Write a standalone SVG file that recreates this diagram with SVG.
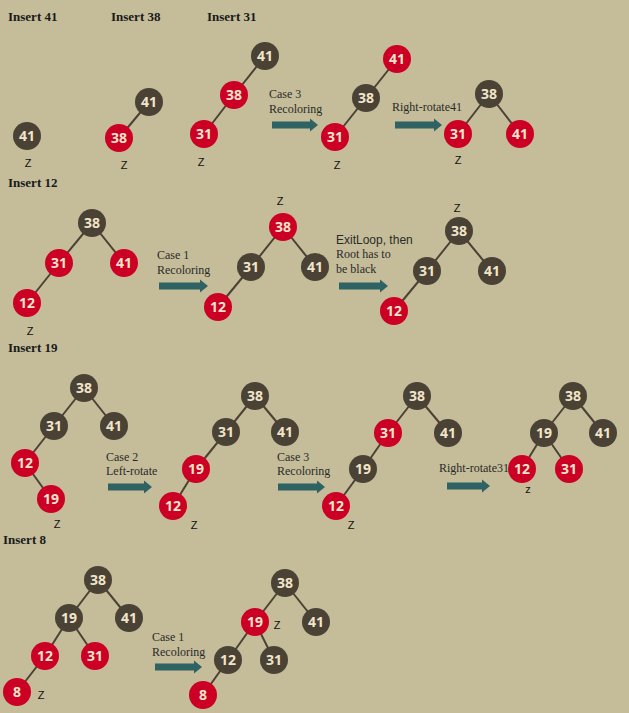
<svg xmlns="http://www.w3.org/2000/svg" width="629" height="713" viewBox="0 0 629 713">
<style>
.bg{fill:#c5bd99}
.b circle{fill:#4b4236}
.r circle{fill:#cc0025}
.n text{font-family:"Open Sans","Liberation Sans",sans-serif;font-weight:700;font-size:14px;fill:#f1e5c9;text-anchor:middle}
.e line{stroke:#4b4236;stroke-width:2}
.hd{font-family:"Liberation Serif",serif;font-weight:700;font-size:13px;fill:#1a1a1a}
.lb{font-family:"Liberation Serif",serif;font-size:12px;fill:#2a2a2a}
.ls{font-family:"Liberation Sans",sans-serif;font-size:12px;fill:#2a2a2a}
.z{font-family:"Liberation Sans",sans-serif;font-size:11px;fill:#111;text-anchor:middle}
.ar{fill:#2f6262}
</style>
<rect class="bg" x="0" y="0" width="629" height="713"/>

<g id="headers">
<text class="hd" x="8" y="21">Insert 41</text>
<text class="hd" x="111" y="21">Insert 38</text>
<text class="hd" x="207" y="21">Insert 31</text>
<text class="hd" x="8" y="187">Insert 12</text>
<text class="hd" x="8" y="352">Insert 19</text>
<text class="hd" x="3" y="544">Insert 8</text>
</g>

<g id="connectors" class="e">
<!-- T2 -->
<line x1="149" y1="102" x2="119" y2="138"/>
<!-- T3 -->
<line x1="265" y1="56" x2="234" y2="95"/>
<line x1="234" y1="95" x2="204" y2="134"/>
<!-- T4 -->
<line x1="397" y1="59" x2="366" y2="98"/>
<line x1="366" y1="98" x2="335" y2="137"/>
<!-- T5 -->
<line x1="489" y1="94" x2="458" y2="134"/>
<line x1="489" y1="94" x2="520" y2="134"/>
<!-- T6 -->
<line x1="92" y1="223" x2="59" y2="263"/>
<line x1="92" y1="223" x2="124" y2="263"/>
<line x1="59" y1="263" x2="27" y2="303"/>
<!-- T7 -->
<line x1="283" y1="227" x2="251" y2="267"/>
<line x1="283" y1="227" x2="315" y2="267"/>
<line x1="251" y1="267" x2="218" y2="307"/>
<!-- T8 -->
<line x1="459" y1="231" x2="427" y2="271"/>
<line x1="459" y1="231" x2="492" y2="271"/>
<line x1="427" y1="271" x2="394" y2="311"/>
<!-- T9 -->
<line x1="84" y1="388" x2="54" y2="426"/>
<line x1="84" y1="388" x2="114" y2="426"/>
<line x1="54" y1="426" x2="25" y2="463"/>
<line x1="25" y1="463" x2="51" y2="499"/>
<!-- T10 -->
<line x1="255" y1="396" x2="226" y2="432"/>
<line x1="255" y1="396" x2="285" y2="432"/>
<line x1="226" y1="432" x2="196" y2="469"/>
<line x1="196" y1="469" x2="173" y2="506"/>
<!-- T11 -->
<line x1="417" y1="396" x2="388" y2="433"/>
<line x1="417" y1="396" x2="448" y2="433"/>
<line x1="388" y1="433" x2="363" y2="469"/>
<line x1="363" y1="469" x2="336" y2="506"/>
<!-- T12 -->
<line x1="573" y1="396" x2="544" y2="433"/>
<line x1="573" y1="396" x2="603" y2="433"/>
<line x1="544" y1="433" x2="522" y2="469"/>
<line x1="544" y1="433" x2="569" y2="469"/>
<!-- T13 -->
<line x1="98" y1="580" x2="69" y2="618"/>
<line x1="98" y1="580" x2="129" y2="618"/>
<line x1="69" y1="618" x2="45" y2="656"/>
<line x1="69" y1="618" x2="95" y2="656"/>
<line x1="45" y1="656" x2="17" y2="692"/>
<!-- T14 -->
<line x1="285" y1="583" x2="255" y2="622"/>
<line x1="285" y1="583" x2="316" y2="622"/>
<line x1="255" y1="622" x2="228" y2="660"/>
<line x1="255" y1="622" x2="274" y2="660"/>
<line x1="228" y1="660" x2="203" y2="695"/>
</g>

<g id="arrows" class="ar">
<path d="M272,121.5 H310 V118.5 L318,125 L310,131.5 V128.5 H272 Z"/>
<path d="M395,121.5 H434 V118.5 L442,125 L434,131.5 V128.5 H395 Z"/>
<path d="M159,282.5 H200 V279.5 L208,286 L200,292.5 V289.5 H159 Z"/>
<path d="M339,282.5 H380 V279.5 L388,286 L380,292.5 V289.5 H339 Z"/>
<path d="M108,483.5 H144 V480.5 L152,487 L144,493.5 V490.5 H108 Z"/>
<path d="M278,483.5 H317 V480.5 L325,487 L317,493.5 V490.5 H278 Z"/>
<path d="M447,482.5 H482 V479.5 L490,486 L482,492.5 V489.5 H447 Z"/>
<path d="M155,663.5 H194 V660.5 L202,667 L194,673.5 V670.5 H155 Z"/>
</g>

<g id="labels">
<text class="lb" x="269" y="98">Case 3</text>
<text class="lb" x="269" y="113">Recoloring</text>
<text class="lb" x="392" y="111">Right-rotate41</text>
<text class="lb" x="157" y="259">Case 1</text>
<text class="lb" x="157" y="274">Recoloring</text>
<text class="ls" x="336" y="244">ExitLoop, then</text>
<text class="lb" x="336" y="258">Root has to</text>
<text class="lb" x="336" y="273">be black</text>
<text class="lb" x="106" y="461">Case 2</text>
<text class="lb" x="106" y="475">Left-rotate</text>
<text class="lb" x="277" y="461">Case 3</text>
<text class="lb" x="277" y="475">Recoloring</text>
<text class="lb" x="439" y="472">Right-rotate31</text>
<text class="lb" x="152" y="641">Case 1</text>
<text class="lb" x="152" y="656">Recoloring</text>
</g>

<g id="zlabels">
<text class="z" x="28" y="167">Z</text>
<text class="z" x="124" y="169">Z</text>
<text class="z" x="201" y="166">Z</text>
<text class="z" x="337" y="169">Z</text>
<text class="z" x="458" y="164">Z</text>
<text class="z" x="30" y="335">Z</text>
<text class="z" x="280" y="205">Z</text>
<text class="z" x="457" y="212">Z</text>
<text class="z" x="57" y="528">Z</text>
<text class="z" x="194" y="529">Z</text>
<text class="z" x="351" y="529">Z</text>
<text class="z" x="528" y="493">z</text>
<text class="z" x="41" y="699">Z</text>
<text class="z" x="277" y="629">Z</text>
</g>

<g id="t1-41" class="n b"><circle cx="27" cy="136" r="14"/><text x="27" y="141">41</text></g>

<g id="t2-41" class="n b"><circle cx="149" cy="102" r="14"/><text x="149" y="107">41</text></g>
<g id="t2-38" class="n r"><circle cx="119" cy="138" r="14"/><text x="119" y="143">38</text></g>

<g id="t3-41" class="n b"><circle cx="265" cy="56" r="14"/><text x="265" y="61">41</text></g>
<g id="t3-38" class="n r"><circle cx="234" cy="95" r="14"/><text x="234" y="100">38</text></g>
<g id="t3-31" class="n r"><circle cx="204" cy="134" r="14"/><text x="204" y="139">31</text></g>

<g id="t4-41" class="n r"><circle cx="397" cy="59" r="14"/><text x="397" y="64">41</text></g>
<g id="t4-38" class="n b"><circle cx="366" cy="98" r="14"/><text x="366" y="103">38</text></g>
<g id="t4-31" class="n r"><circle cx="335" cy="137" r="14"/><text x="335" y="142">31</text></g>

<g id="t5-38" class="n b"><circle cx="489" cy="94" r="14"/><text x="489" y="99">38</text></g>
<g id="t5-31" class="n r"><circle cx="458" cy="134" r="14"/><text x="458" y="139">31</text></g>
<g id="t5-41" class="n r"><circle cx="520" cy="134" r="14"/><text x="520" y="139">41</text></g>

<g id="t6-38" class="n b"><circle cx="92" cy="223" r="14"/><text x="92" y="228">38</text></g>
<g id="t6-31" class="n r"><circle cx="59" cy="263" r="14"/><text x="59" y="268">31</text></g>
<g id="t6-41" class="n r"><circle cx="124" cy="263" r="14"/><text x="124" y="268">41</text></g>
<g id="t6-12" class="n r"><circle cx="27" cy="303" r="14"/><text x="27" y="308">12</text></g>

<g id="t7-38" class="n r"><circle cx="283" cy="227" r="14"/><text x="283" y="232">38</text></g>
<g id="t7-31" class="n b"><circle cx="251" cy="267" r="14"/><text x="251" y="272">31</text></g>
<g id="t7-41" class="n b"><circle cx="315" cy="267" r="14"/><text x="315" y="272">41</text></g>
<g id="t7-12" class="n r"><circle cx="218" cy="307" r="14"/><text x="218" y="312">12</text></g>

<g id="t8-38" class="n b"><circle cx="459" cy="231" r="14"/><text x="459" y="236">38</text></g>
<g id="t8-31" class="n b"><circle cx="427" cy="271" r="14"/><text x="427" y="276">31</text></g>
<g id="t8-41" class="n b"><circle cx="492" cy="271" r="14"/><text x="492" y="276">41</text></g>
<g id="t8-12" class="n r"><circle cx="394" cy="311" r="14"/><text x="394" y="316">12</text></g>

<g id="t9-38" class="n b"><circle cx="84" cy="388" r="14"/><text x="84" y="393">38</text></g>
<g id="t9-31" class="n b"><circle cx="54" cy="426" r="14"/><text x="54" y="431">31</text></g>
<g id="t9-41" class="n b"><circle cx="114" cy="426" r="14"/><text x="114" y="431">41</text></g>
<g id="t9-12" class="n r"><circle cx="25" cy="463" r="14"/><text x="25" y="468">12</text></g>
<g id="t9-19" class="n r"><circle cx="51" cy="499" r="14"/><text x="51" y="504">19</text></g>

<g id="t10-38" class="n b"><circle cx="255" cy="396" r="14"/><text x="255" y="401">38</text></g>
<g id="t10-31" class="n b"><circle cx="226" cy="432" r="14"/><text x="226" y="437">31</text></g>
<g id="t10-41" class="n b"><circle cx="285" cy="432" r="14"/><text x="285" y="437">41</text></g>
<g id="t10-19" class="n r"><circle cx="196" cy="469" r="14"/><text x="196" y="474">19</text></g>
<g id="t10-12" class="n r"><circle cx="173" cy="506" r="14"/><text x="173" y="511">12</text></g>

<g id="t11-38" class="n b"><circle cx="417" cy="396" r="14"/><text x="417" y="401">38</text></g>
<g id="t11-31" class="n r"><circle cx="388" cy="433" r="14"/><text x="388" y="438">31</text></g>
<g id="t11-41" class="n b"><circle cx="448" cy="433" r="14"/><text x="448" y="438">41</text></g>
<g id="t11-19" class="n b"><circle cx="363" cy="469" r="14"/><text x="363" y="474">19</text></g>
<g id="t11-12" class="n r"><circle cx="336" cy="506" r="14"/><text x="336" y="511">12</text></g>

<g id="t12-38" class="n b"><circle cx="573" cy="396" r="14"/><text x="573" y="401">38</text></g>
<g id="t12-19" class="n b"><circle cx="544" cy="433" r="14"/><text x="544" y="438">19</text></g>
<g id="t12-41" class="n b"><circle cx="603" cy="433" r="14"/><text x="603" y="438">41</text></g>
<g id="t12-12" class="n r"><circle cx="522" cy="469" r="14"/><text x="522" y="474">12</text></g>
<g id="t12-31" class="n r"><circle cx="569" cy="469" r="14"/><text x="569" y="474">31</text></g>

<g id="t13-38" class="n b"><circle cx="98" cy="580" r="14"/><text x="98" y="585">38</text></g>
<g id="t13-19" class="n b"><circle cx="69" cy="618" r="14"/><text x="69" y="623">19</text></g>
<g id="t13-41" class="n b"><circle cx="129" cy="618" r="14"/><text x="129" y="623">41</text></g>
<g id="t13-12" class="n r"><circle cx="45" cy="656" r="14"/><text x="45" y="661">12</text></g>
<g id="t13-31" class="n r"><circle cx="95" cy="656" r="14"/><text x="95" y="661">31</text></g>
<g id="t13-8" class="n r"><circle cx="17" cy="692" r="14"/><text x="17" y="697">8</text></g>

<g id="t14-38" class="n b"><circle cx="285" cy="583" r="14"/><text x="285" y="588">38</text></g>
<g id="t14-19" class="n r"><circle cx="255" cy="622" r="14"/><text x="255" y="627">19</text></g>
<g id="t14-41" class="n b"><circle cx="316" cy="622" r="14"/><text x="316" y="627">41</text></g>
<g id="t14-12" class="n b"><circle cx="228" cy="660" r="14"/><text x="228" y="665">12</text></g>
<g id="t14-31" class="n b"><circle cx="274" cy="660" r="14"/><text x="274" y="665">31</text></g>
<g id="t14-8" class="n r"><circle cx="203" cy="695" r="14"/><text x="203" y="700">8</text></g>
</svg>
